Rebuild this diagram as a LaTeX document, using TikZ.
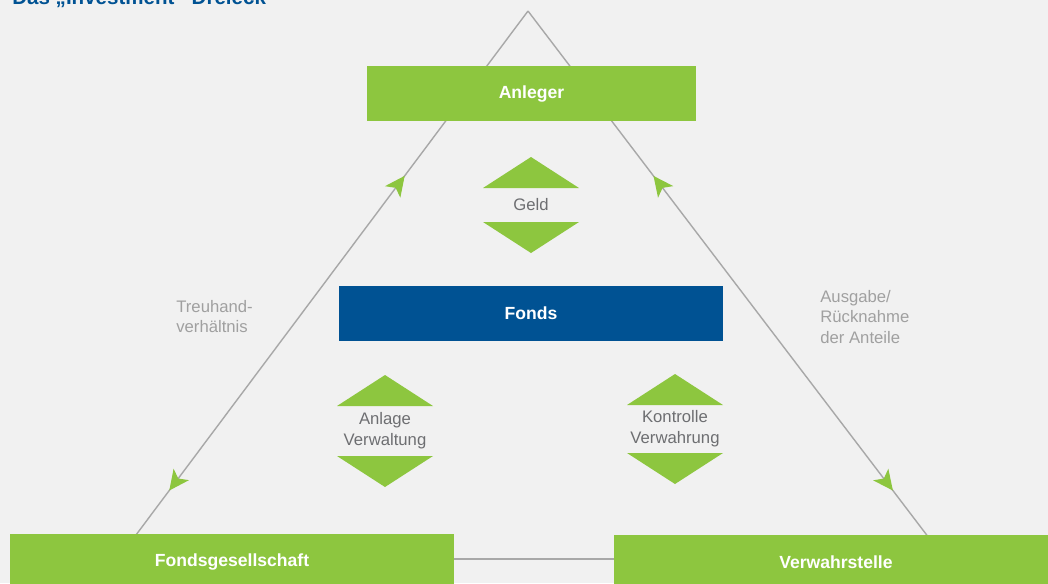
\documentclass[tikz,border=0pt]{standalone}
\usepackage{fontspec}
\setmainfont{Liberation Sans}
\usepackage{tikz}
\usetikzlibrary{arrows.meta,calc,positioning,decorations.markings}

\definecolor{gruen}{HTML}{8DC63F}
\definecolor{blau}{HTML}{005293}
\definecolor{hgrau}{HTML}{F1F1F1}
\definecolor{lgrau}{HTML}{A8A8A8}
\definecolor{tgrau}{HTML}{6D6E71}
\definecolor{sgrau}{HTML}{A0A0A0}

% Doppelpfeil um ein Label: #1 Knoten, #2 halber Abstand
\newcommand{\doppelpfeil}[2]{%
  \fill[gruen] ($(#1)+(-48,-#2)$) -- ($(#1)+(0,-#2-31)$) -- ($(#1)+(48,-#2)$) -- cycle;
  \fill[gruen] ($(#1)+(-48,#2)$) -- ($(#1)+(0,#2+31)$) -- ($(#1)+(48,#2)$) -- cycle;
}

\tikzset{
  box/.style={fill=gruen, text=white, font=\bfseries, minimum height=1.1cm, inner sep=0pt},
  fondsbox/.style={box, fill=blau},
  linie/.style={draw=lgrau, line width=0.8pt},
  pfeilspitze/.tip={Stealth[gruen, length=0.4cm, width=0.38cm, inset=0.1cm]},
  pfeiltext/.style={text=tgrau, align=center, inner sep=0pt},
  seitentext/.style={text=sgrau, align=left, inner sep=0pt, anchor=west},
}

\begin{document}
\begin{tikzpicture}[x=0.02cm, y=-0.02cm, font=\fontsize{9.5}{11.9}\selectfont]
  \useasboundingbox (0,0) rectangle (1048,583);
  \fill[hgrau] (0,0) rectangle (1048,583);

  \node[anchor=base west, text=blau, font=\fontsize{11.7}{14}\selectfont\bfseries, inner sep=0pt]
    (titel) at (12,4) {Das „Investment“-Dreieck};

  % Dreieck
  \coordinate (oben) at (528,11);
  \coordinate (links) at (118,559);
  \coordinate (rechts) at (945,559);

  \draw[linie, postaction={decorate}, decoration={markings,
      mark=at position 0.33 with {\arrow{pfeilspitze[reversed]}},
      mark=at position 0.875 with {\arrow{pfeilspitze}}}]
    (oben) -- (links);
  \draw[linie, postaction={decorate}, decoration={markings,
      mark=at position 0.33 with {\arrow{pfeilspitze[reversed]}},
      mark=at position 0.875 with {\arrow{pfeilspitze}}}]
    (oben) -- (rechts);
  \draw[linie] (links) -- (rechts);

  % Kaesten
  \node[box, minimum width=6.58cm] (anleger) at (531.5,93.5) {Anleger};
  \node[fondsbox, minimum width=7.68cm] (fonds) at (531,313.5) {Fonds};
  \node[box, minimum width=8.88cm] (gesellschaft) at (232,561.5) {Fondsgesellschaft};
  \node[box, minimum width=8.88cm] (verwahrstelle) at (836,562) {Verwahrstelle};

  % Doppelpfeile
  \node[pfeiltext] (geld) at (531,205) {Geld};
  \doppelpfeil{geld}{17}
  \node[pfeiltext] (anlage) at (385,431) {Anlage\\Verwaltung};
  \doppelpfeil{anlage}{25}
  \node[pfeiltext] (kontrolle) at (675,429) {Kontrolle\\Verwahrung};
  \doppelpfeil{kontrolle}{24}

  % Seitenbeschriftung
  \node[seitentext] (treuhand) at (176,316.5) {Treuhand-\\verhältnis};
  \node[seitentext] (ausgabe) at (820,317) {Ausgabe/\\Rücknahme\\der Anteile};
\end{tikzpicture}
\end{document}
